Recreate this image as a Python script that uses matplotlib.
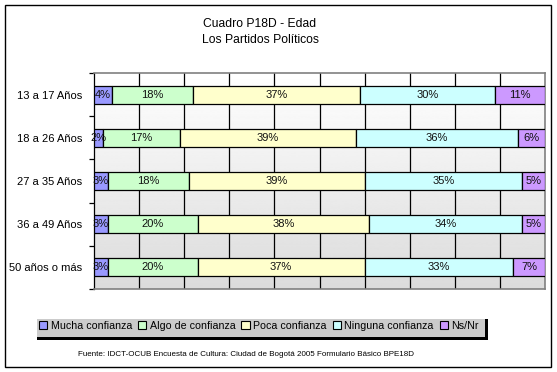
import numpy as np
import matplotlib
matplotlib.use("Agg")
import matplotlib.pyplot as plt
from matplotlib.patches import Rectangle

plt.rcParams['font.family'] = ['Liberation Sans', 'DejaVu Sans']

categories = ["13 a 17 Años", "18 a 26 Años", "27 a 35 Años", "36 a 49 Años", "50 años o más"]
series_names = ["Mucha confianza", "Algo de confianza", "Poca confianza", "Ninguna confianza", "Ns/Nr"]
mucha = [4, 2, 3, 3, 3]
algo = [18, 17, 18, 20, 20]
poca = [37, 39, 39, 38, 37]
ninguna = [30, 36, 35, 34, 33]
nsnr = [11, 6, 5, 5, 7]
series = [mucha, algo, poca, ninguna, nsnr]
colors = ["#9999FF", "#CCFFCC", "#FFFFCC", "#CCFFFF", "#CC99FF"]

title_lines = ["Cuadro P18D - Edad", "Los Partidos Políticos"]
source = "Fuente: IDCT-OCUB Encuesta de Cultura: Ciudad de Bogotá 2005 Formulario Básico BPE18D"

W, H = 557, 372
fig = plt.figure(figsize=(W / 100, H / 100), dpi=100)
fig.patch.set_facecolor("white")

# outer frame
fig.add_artist(Rectangle((5 / W, 1 - 367 / H), 546 / W, 362 / H, transform=fig.transFigure,
                         fill=False, edgecolor="black", linewidth=1.0))

ax = fig.add_axes([94 / W, 1 - 289 / H, (545 - 94) / W, (289 - 73) / H])

# gradient background
grad = np.linspace(1.0, 0.86, 256).reshape(-1, 1)
ax.imshow(grad, cmap="gray", vmin=0, vmax=1, aspect="auto",
          extent=[0, 1, 0, 1], transform=ax.transAxes, zorder=0)

y = np.arange(len(categories))
left = np.zeros(len(categories))
for vals, col in zip(series, colors):
    vals = np.array(vals, dtype=float)
    ax.barh(y, vals, left=left, height=0.42, color=col, edgecolor="black",
            linewidth=0.9, zorder=3)
    for yi, l, v in zip(y, left, vals):
        ax.text(l + v / 2, yi, f"{int(v)}%", ha="center", va="center",
                fontsize=8, color="#111111", zorder=4)
    left += vals

ax.set_xlim(0, 100)
ax.set_ylim(len(categories) - 0.5, -0.5)
ax.set_xticks(np.arange(10, 100, 10))
ax.xaxis.grid(True, color="black", linewidth=0.9, zorder=1)
ax.set_axisbelow(True)
ax.tick_params(axis="x", length=0, labelbottom=False)

ax.set_yticks(y)
ax.set_yticklabels(categories, fontsize=8)
ax.tick_params(axis="y", which="major", length=0, pad=8.5)
ax.set_yticks(np.arange(-0.5, len(categories), 1), minor=True)
ax.tick_params(axis="y", which="minor", length=3.5, width=0.9, color="black", direction="out")

for s in ["top", "right", "bottom"]:
    ax.spines[s].set_color("#808080")
    ax.spines[s].set_linewidth(1.2)
ax.spines["left"].set_color("black")
ax.spines["left"].set_linewidth(0.9)

# titles
fig.text(260 / W, 1 - 24 / H, title_lines[0], ha="center", va="center", fontsize=8.7)
fig.text(260 / W, 1 - 40 / H, title_lines[1], ha="center", va="center", fontsize=8.7)

# legend
handles = [Rectangle((0, 0), 1, 1, facecolor=c, edgecolor="black", linewidth=0.8) for c in colors]
leg = fig.legend(handles, series_names, loc="center", bbox_to_anchor=(259 / W, 1 - 326 / H),
                 ncol=5, fontsize=7.7, frameon=True, fancybox=False,
                 handlelength=0.75, handleheight=0.75, handletextpad=0.35,
                 columnspacing=0.55, borderpad=0.55, borderaxespad=0, edgecolor="white")
leg.get_frame().set_linewidth(0)
leg.set_zorder(5)

fig.canvas.draw()
bb = leg.get_window_extent().transformed(fig.transFigure.inverted())
off_x, off_y = 3.5 / W, 3.5 / H
fig.add_artist(Rectangle((bb.x0 + off_x, bb.y0 - off_y), bb.width, bb.height,
                         transform=fig.transFigure, facecolor="black", edgecolor="none", zorder=4))

fig.text(246 / W, 1 - 354 / H, source, ha="center", va="center", fontsize=5.8)

fig.savefig("out.png", dpi=100)
